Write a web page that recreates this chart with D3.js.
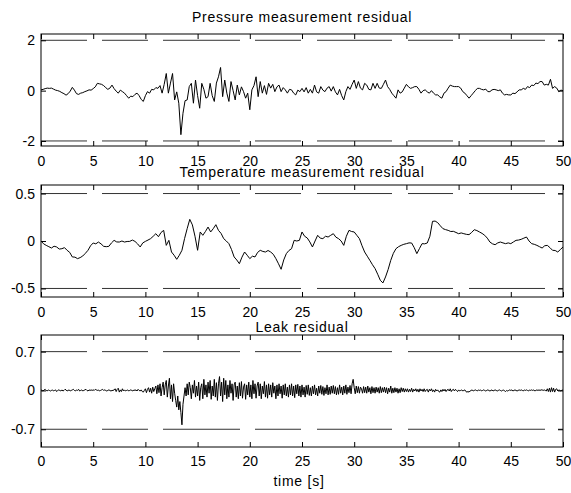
<!DOCTYPE html>
<html>
<head>
<meta charset="utf-8">
<script src="https://cdn.jsdelivr.net/npm/d3@7"></script>
<style>
  body { margin: 0; background: #fff; }
  text { font-family: Arial, "Liberation Sans", sans-serif; font-size: 14px; fill: #000; }
  .title { letter-spacing: 0.75px; }
</style>
</head>
<body>
<svg id="chart" width="571" height="493"></svg>
<script>
// x ticks shared by all three panels
const xTicks = [0, 5, 10, 15, 20, 25, 30, 35, 40, 45, 50];

// pressure residual, one value every 0.2 s from t = 0
const pressure = [
  0.03,0.05,0.08,0.1,0.09,0.1,0.06,0.02,0,-0.03,
  -0.08,-0.12,-0.18,-0.12,-0.02,0.13,0.02,-0.12,-0.15,-0.1,
  -0.08,-0.04,-0.01,0.03,0.02,0.08,0.15,0.29,0.27,0.25,
  0.2,0.12,0.05,0.1,0.22,0.08,-0.02,-0.1,0.02,-0.04,
  -0.1,-0.2,-0.3,-0.22,-0.24,-0.15,-0.1,-0.2,-0.35,-0.43,
  -0.2,-0.04,-0.1,0.05,0.03,0.12,0.09,0.2,-0.1,0.25,
  0.68,-0.1,0.3,0.68,-0.37,-0.05,-0.5,-1.75,-0.9,-0.4,
  -0.37,0.16,0.29,-0.5,0.42,-0.2,-0.7,0.29,0.05,-0.3,
  -0.24,0.29,-0.2,-0.43,0.3,0.55,0.92,-0.24,0.42,-0.1,
  -0.43,0.36,0,-0.37,0.22,-0.17,0.15,-0.04,-0.3,-0.1,
  -0.76,0.03,0.2,0.55,-0.24,0.36,-0.1,0.2,-0.15,0.29,
  0.1,0.25,-0.04,0.15,0.22,-0.04,0.12,0.03,-0.1,0.05,
  0.03,-0.1,-0.17,0.02,-0.04,0.09,-0.05,0.12,-0.1,0.05,
  -0.1,0.22,-0.05,-0.1,0.16,0.02,-0.04,0.1,0.16,-0.02,
  0.16,-0.05,-0.17,0.05,-0.2,-0.37,-0.04,0.16,0.05,0.25,
  0.42,0.09,0.36,0.1,0.03,0.29,0.22,0.05,0.03,0.29,
  0.09,0.29,0.1,0.09,0.25,0.42,0.16,0.05,-0.1,-0.2,
  -0.3,0.03,-0.1,-0.05,0.1,0.25,0.15,0.09,0.12,0.16,
  0.16,0.05,-0.1,0,0.03,-0.05,-0.1,0,-0.1,-0.17,
  -0.17,-0.25,-0.3,-0.1,-0.04,0.1,0.22,0.18,0.16,0.16,
  0.16,0.1,-0.04,-0.1,-0.2,-0.3,-0.2,-0.1,0,0.09,
  0.09,0.05,0.03,0.06,-0.04,-0.04,0.03,0.05,0.03,0,
  0.03,-0.1,-0.17,-0.15,-0.17,-0.17,-0.1,-0.12,-0.05,0.03,
  0.03,0.09,0.05,0.16,0.12,0.22,0.2,0.3,0.28,0.36,
  0.36,0.22,0.25,0.22,0.45,0.09,0.16,0.1,-0.04,0.02,
  0
];

// temperature residual, one value every 0.25 s from t = 0
const temperature = [
  0,-0.03,-0.046,-0.06,-0.074,-0.055,-0.063,-0.085,
  -0.081,-0.07,-0.098,-0.12,-0.168,-0.17,-0.186,-0.175,
  -0.158,-0.13,-0.098,-0.05,-0.021,-0.03,-0.011,-0.03,
  -0.056,-0.06,-0.056,-0.02,0.007,-0.01,-0.011,0,
  -0.011,-0.005,-0.004,0.01,-0.004,-0.03,-0.063,-0.02,
  -0.004,0.01,0.025,0.05,0.077,0.045,0.09,0.112,
  -0.046,0.007,-0.116,-0.15,-0.193,-0.15,-0.098,0.025,
  0.13,0.228,0.17,0.05,-0.098,0.095,0.06,0.1,
  0.147,0.095,0.13,0.172,0.112,0.08,0.025,0,
  -0.028,-0.09,-0.168,-0.2,-0.239,-0.17,-0.116,-0.15,
  -0.186,-0.16,-0.168,-0.12,-0.098,-0.11,-0.116,-0.1,
  -0.116,-0.14,-0.186,-0.24,-0.298,-0.2,-0.133,-0.1,
  -0.081,0.007,0,0.007,0.095,0.05,0.032,-0.01,
  -0.063,0,0.06,0.03,0.025,0.05,0.042,0.06,
  0.077,0.04,0.025,0,-0.046,0.05,0.112,0.1,
  0.095,0.06,0.025,-0.05,-0.116,-0.16,-0.204,-0.25,
  -0.291,-0.35,-0.414,-0.442,-0.379,-0.3,-0.204,-0.13,
  -0.081,-0.06,-0.046,-0.035,-0.028,-0.02,-0.021,-0.07,
  -0.133,-0.08,-0.028,-0.03,-0.021,0.05,0.207,0.21,
  0.193,0.16,0.13,0.12,0.112,0.1,0.102,0.09,
  0.077,0.085,0.077,0.07,0.067,0.09,0.119,0.11,
  0.095,0.08,0.06,0.03,-0.011,-0.03,-0.039,-0.02,
  -0.011,-0.02,-0.028,-0.02,-0.028,-0.01,0.007,0.01,
  0.018,0.03,0.042,0,-0.028,-0.035,-0.046,-0.06,
  -0.074,-0.05,-0.046,-0.07,-0.098,-0.1,-0.116,-0.09,
  -0.063
];

// leak residual, one value every 0.1 s from t = 0
const leak = [
  0.01,0,-0.01,0.01,0.02,0,-0.01,0.01,0,-0.01,
  0,0.01,-0.01,0,0.01,-0.02,0,0.01,0,-0.01,
  0.01,-0.01,0,0.02,0.01,-0.01,0,0.01,-0.01,0,
  0.01,0.02,0,-0.01,0.01,0,0.02,-0.01,0,0.01,
  -0.01,0,0.01,0.02,0,-0.01,0.01,0,0.01,0,
  0.01,0,0.02,0.01,0,0.01,-0.01,0,0.01,0.02,
  0,0.01,0,-0.01,0,0.01,0,-0.01,0,0,
  0.01,0.03,-0.02,0.02,0.04,-0.03,0.01,-0.02,0.03,-0.01,
  0.01,-0.01,0,0.01,-0.01,0,0.01,0,-0.01,0.01,
  0,0.01,-0.01,0.02,0,-0.01,0.01,-0.02,-0.03,0,
  0.03,-0.04,0.02,0.05,-0.03,0.04,-0.05,0.06,-0.02,0.03,
  0.08,-0.06,0.1,-0.04,0.12,-0.1,0.05,0.15,-0.08,0.1,
  0.18,-0.12,0.08,0.22,-0.15,0.1,-0.2,0.12,-0.05,-0.18,
  -0.3,-0.1,-0.35,-0.2,-0.4,-0.62,-0.25,-0.1,0.05,-0.1,
  0.12,-0.08,0.15,0.05,-0.15,0.1,-0.05,0.18,-0.12,0.08,
  -0.1,0.15,-0.18,0.05,0.12,-0.15,0.2,-0.08,0.1,-0.12,
  0.15,-0.05,0.18,-0.16,0.08,-0.1,0.2,-0.12,0.14,-0.18,
  0.12,0.25,-0.1,0.15,-0.2,0.22,-0.08,0.18,-0.15,0.1,
  -0.12,0.18,-0.05,0.12,-0.18,0.1,0.15,-0.12,0.08,-0.15,
  0.14,-0.1,0.16,-0.14,0.06,0.12,-0.16,0.1,-0.08,0.15,
  -0.12,0.1,-0.15,0.18,-0.06,0.12,-0.14,0.08,0.15,-0.1,
  0.12,-0.15,0.08,-0.06,0.16,-0.12,0.1,-0.14,0.12,-0.08,
  0.1,-0.12,0.14,-0.05,0.08,-0.15,0.1,-0.1,0.12,-0.06,
  0.08,-0.14,0.1,-0.08,0.12,-0.1,0.06,-0.12,0.1,-0.08,
  0.12,-0.1,0.08,-0.13,0.1,-0.06,0.11,-0.1,0.08,-0.12,
  0.1,-0.08,0.06,-0.12,0.09,-0.07,0.1,-0.09,0.05,-0.1,
  0.08,-0.06,0.1,-0.08,0.04,-0.1,0.08,-0.05,0.09,-0.07,
  0.07,-0.09,0.05,-0.06,0.1,-0.08,0.06,-0.07,0.08,-0.05,
  0.09,-0.06,0.07,-0.08,0.05,-0.07,0.1,-0.05,0.06,-0.08,
  0.08,-0.05,0.1,-0.07,0.06,-0.04,0.09,-0.06,0.12,0.2,
  0.05,-0.06,0.08,-0.04,0.07,-0.05,0.06,0.03,-0.05,0.07,
  -0.04,0.06,-0.05,0.08,-0.03,0.05,-0.06,0.07,-0.04,0.05,
  -0.05,0.06,-0.03,0.05,-0.05,0.07,-0.04,0.05,-0.03,0.06,
  -0.04,0.05,-0.06,0.04,-0.03,0.08,-0.05,0.04,-0.04,0.05,
  -0.03,0.04,-0.05,0.03,-0.04,0.05,-0.02,0.04,-0.03,0.03,
  -0.02,0.03,-0.03,0.02,-0.02,0.04,-0.03,0.02,-0.01,0.03,
  -0.02,0.02,-0.03,0.03,-0.01,0.02,-0.02,0.03,-0.02,0.01,
  0.02,-0.03,0.02,-0.01,0.03,-0.02,0.01,-0.03,0.02,-0.01,
  0.01,-0.02,-0.03,0.01,-0.02,0.02,-0.01,0.02,-0.02,0.01,
  0.02,-0.01,0.03,-0.02,0.01,0.02,-0.01,0.02,0,-0.02,
  0.01,-0.01,0,0.01,-0.01,0,0.01,-0.02,-0.03,-0.02,
  -0.03,-0.01,0,0.01,-0.01,0,0.01,0,-0.01,0.01,
  0,0.01,-0.01,0,0.01,0,-0.01,0,0.01,0,
  -0.01,0,0.01,-0.01,0,0.01,0,-0.01,0,0.01,
  0,-0.01,0,0.01,-0.01,-0.02,0,-0.01,0,0.01,
  0,0.01,-0.01,0,0.01,0,-0.01,0,0.01,0,
  0.01,0,-0.01,0.01,0,0.01,0,-0.01,0.01,0,
  0.01,0,0.01,-0.01,0,0.01,0,0.01,0,0.01,
  0.01,0,0.01,0,-0.01,0.03,-0.02,0.04,-0.03,0.05,
  -0.02,0.04,-0.03,0.02,0.03,-0.01,0.01,0,-0.01,0.01,
  0
];

const panels = [
  { title: 'Pressure measurement residual', data: pressure, step: 0.2, top: 34, domain: [-2.2, 2.25],
    yTicks: [-2, 0, 2], limit: 2, titleY: 22, labelGap: 10 },
  { title: 'Temperature measurement residual', data: temperature, step: 0.25, top: 185, domain: [-0.59, 0.59],
    yTicks: [-0.5, 0, 0.5], limit: 0.5, titleY: 177, labelGap: 10 },
  { title: 'Leak residual', data: leak, step: 0.1, top: 335, domain: [-1.02, 1],
    yTicks: [-0.7, 0, 0.7], limit: 0.7, titleY: 332, labelGap: 9 }
];

const left = 41, right = 563, panelH = 112;
const svg = d3.select('#chart');

const x = d3.scaleLinear().domain([0, 50]).range([left, right]);

panels.forEach(p => {
  const y = d3.scaleLinear().domain(p.domain).range([p.top + panelH, p.top]);
  const g = svg.append('g');

  // threshold lines
  [p.limit, -p.limit].forEach(v => {
    g.append('line')
      .attr('x1', x(0)).attr('x2', x(50))
      .attr('y1', y(v)).attr('y2', y(v))
      .attr('stroke', '#333')
      .attr('stroke-width', 1)
      .attr('stroke-dasharray', '46,15,46,15,77,15,46,16,75,16,45,16,76,13,30');
  });

  const line = d3.line().x((d, i) => x(i * p.step)).y(d => y(d));
  g.append('path')
    .datum(p.data)
    .attr('d', line)
    .attr('fill', 'none')
    .attr('stroke', '#000')
    .attr('stroke-width', 1)
    .attr('stroke-linejoin', 'round');

  // axes, ticks pointing inward like matlab
  g.append('g')
    .attr('transform', `translate(0,${p.top + panelH})`)
    .call(d3.axisBottom(x).tickValues(xTicks).tickSize(-5).tickPadding(p.labelGap).tickFormat(d => String(d)));
  g.append('g')
    .attr('transform', `translate(0,${p.top})`)
    .call(d3.axisTop(x).tickValues(xTicks).tickSize(-5).tickFormat(''));
  g.append('g')
    .attr('transform', `translate(${left},0)`)
    .call(d3.axisLeft(y).tickValues(p.yTicks).tickSize(-5).tickPadding(6).tickFormat(d => String(d)));
  g.append('g')
    .attr('transform', `translate(${right},0)`)
    .call(d3.axisRight(y).tickValues(p.yTicks).tickSize(-5).tickFormat(''));

  g.selectAll('.domain').remove();
  g.selectAll('.tick line').attr('stroke', '#000');
  g.selectAll('.tick text').style('font-size', '14px').attr('fill', '#000');

  g.append('rect')
    .attr('x', left).attr('y', p.top)
    .attr('width', right - left).attr('height', panelH)
    .attr('fill', 'none').attr('stroke', '#000').attr('stroke-width', 1);

  g.append('text')
    .attr('class', 'title')
    .attr('x', (left + right) / 2)
    .attr('y', p.titleY)
    .attr('text-anchor', 'middle')
    .text(p.title);
});

svg.append('text')
  .attr('class', 'title')
  .attr('x', 299)
  .attr('y', 486)
  .attr('text-anchor', 'middle')
  .text('time [s]');
</script>
</body>
</html>
